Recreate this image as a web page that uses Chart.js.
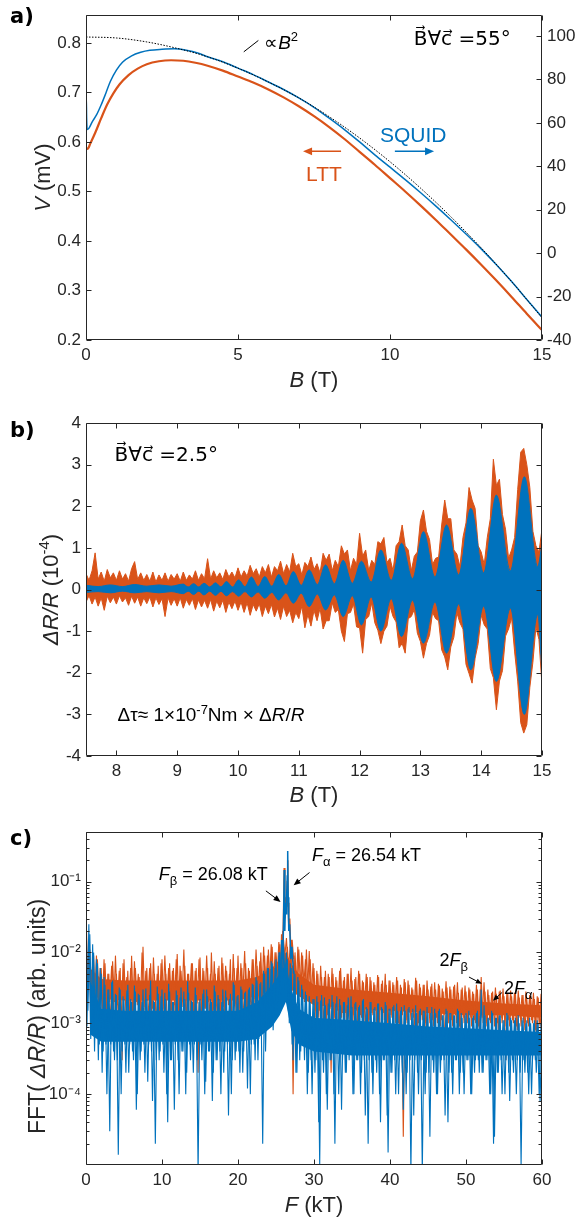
<!DOCTYPE html>
<html><head><meta charset="utf-8"><title>LTT vs SQUID</title>
<script src="https://cdn.jsdelivr.net/npm/chart.js@4.4.1/dist/chart.umd.min.js"></script>
<style>
html,body{margin:0;padding:0;background:#fff;}
#wrap{position:relative;width:579px;height:1218px;overflow:hidden;background:#fff;}
#wrap canvas{position:absolute;left:0;}
</style></head><body>
<div id="wrap">
<canvas id="ca" width="579" height="400" style="top:0px;width:579px;height:400px"></canvas>
<canvas id="cb" width="579" height="410" style="top:400px;width:579px;height:410px"></canvas>
<canvas id="cc" width="579" height="408" style="top:810px;width:579px;height:408px"></canvas>
</div>
<script>
// ---------------- Panel a data ----------------
const ltB = [0, 0.05, 0.15, 0.3, 0.5, 0.7, 0.9, 1.1, 1.4, 1.7, 2.0, 2.4, 2.8, 3.2, 3.6, 4.0, 4.5, 5.0, 5.5, 6.0, 6.5, 7.0, 7.5, 8.0, 8.5, 9.0, 9.5, 10.0, 10.5, 11.0, 11.5, 12.0, 12.5, 13.0, 13.5, 14.0, 14.5, 15.0];
const ltV = [0.588, 0.586, 0.598, 0.618, 0.648, 0.676, 0.698, 0.716, 0.735, 0.748, 0.757, 0.763, 0.765, 0.764, 0.760, 0.754, 0.744, 0.732, 0.720, 0.706, 0.690, 0.672, 0.652, 0.630, 0.606, 0.580, 0.554, 0.527, 0.500, 0.472, 0.443, 0.413, 0.383, 0.352, 0.320, 0.287, 0.253, 0.220];
const sqB = [0, 0.01, 0.02, 0.04, 0.1, 0.2, 0.35, 0.5, 0.65, 0.8, 1.0, 1.2, 1.5, 1.8, 2.1, 2.5, 2.9, 3.3, 3.7, 4.0, 4.5, 5.0, 5.5, 6.0, 6.5, 7.0, 7.5, 8.0, 8.5, 9.0, 9.5, 10.0, 10.5, 11.0, 11.5, 12.0, 12.5, 13.0, 13.5, 14.0, 14.5, 15.0];
const sqV = [0.62, 0.69, 0.65, 0.625, 0.628, 0.64, 0.655, 0.675, 0.698, 0.722, 0.745, 0.761, 0.774, 0.781, 0.785, 0.787, 0.788, 0.785, 0.779, 0.772, 0.762, 0.749, 0.736, 0.721, 0.706, 0.689, 0.670, 0.648, 0.625, 0.600, 0.574, 0.549, 0.524, 0.498, 0.471, 0.443, 0.414, 0.384, 0.352, 0.318, 0.282, 0.246];
const parB = [0, 1, 2, 3, 4, 5, 6, 7, 8, 9, 10, 11, 12, 13, 14, 15];
const parV = [0.812, 0.810, 0.802, 0.789, 0.772, 0.749, 0.721, 0.689, 0.651, 0.608, 0.560, 0.507, 0.449, 0.386, 0.318, 0.245];
const aXTicks = [0, 5, 10, 15];
const aYTicks = [0.2, 0.3, 0.4, 0.5, 0.6, 0.7, 0.8];
const aY2Ticks = [-40, -20, 0, 20, 40, 60, 80, 100];

// ---------------- Panel b data ----------------
const bB = [7.5, 7.7, 7.9, 8.1, 8.3, 8.5, 8.7, 8.9, 9.1, 9.18, 9.27, 9.355, 9.44, 9.535, 9.63, 9.72, 9.81, 9.91, 10.01, 10.115, 10.22, 10.33, 10.44, 10.555, 10.67, 10.79, 10.91, 11.04, 11.17, 11.305, 11.44, 11.585, 11.73, 11.88, 12.03, 12.19, 12.35, 12.52, 12.69, 12.87, 13.05, 13.24, 13.43, 13.63, 13.83, 14.04, 14.25, 14.48, 14.71, 14.93, 15.0];
const bUp = [0.10, 0.07, 0.11, 0.07, 0.12, 0.08, 0.11, 0.08, 0.13, 0.06, 0.14, 0.06, 0.15, 0.06, 0.16, 0.06, 0.19, 0.06, 0.23, 0.07, 0.30, 0.07, 0.31, 0.08, 0.36, 0.09, 0.43, 0.10, 0.47, 0.12, 0.59, 0.14, 0.70, 0.15, 0.68, 0.18, 0.95, 0.22, 1.11, 0.26, 1.39, 0.30, 1.55, 0.35, 1.95, 0.40, 2.27, 0.45, 2.71, 0.55, 1.10];
const bLo = [-0.07, -0.05, -0.08, -0.04, -0.08, -0.05, -0.08, -0.05, -0.10, -0.04, -0.12, -0.04, -0.13, -0.04, -0.14, -0.04, -0.15, -0.05, -0.16, -0.05, -0.18, -0.06, -0.21, -0.07, -0.25, -0.08, -0.33, -0.09, -0.41, -0.11, -0.49, -0.13, -0.65, -0.15, -0.85, -0.18, -1.00, -0.22, -1.13, -0.26, -1.29, -0.30, -1.53, -0.35, -1.93, -0.40, -2.21, -0.45, -3.00, -0.60, -2.00];
// LTT noise envelope, sampled every 0.05 T from 7.5 T to 15 T
const oUp = [
 0.38, 0.22, 0.45, 0.88, 0.25, 0.42, 0.20, 0.48, 0.28, 0.40,
 0.22, 0.45, 0.25, 0.38, 0.20, 0.50, 0.67, 0.24, 0.40, 0.22,
 0.36, 0.20, 0.42, 0.18, 0.35, 0.22, 0.40, 0.20, 0.36, 0.25,
 0.38, 0.20, 0.42, 0.22, 0.35, 0.25, 0.45, 0.22, 0.38, 0.26,
 0.74, 0.25, 0.45, 0.28, 0.40, 0.24, 0.48, 0.30, 0.42, 0.28,
 0.52, 0.30, 0.45, 0.32, 0.58, 0.38, 0.50, 0.30, 0.55, 0.40,
 0.60, 0.30, 0.55, 0.45, 0.68, 0.38, 0.60, 0.42, 0.87, 0.55,
 0.62, 0.35, 0.65, 0.55, 0.78, 0.48, 0.62, 0.40, 0.87, 0.70,
 0.85, 0.45, 0.70, 0.55, 1.05, 0.85, 0.95, 0.45, 0.75, 0.60,
 1.35, 0.80, 0.95, 0.45, 0.70, 0.60, 1.15, 1.10, 1.25, 0.65,
 0.75, 0.45, 1.05, 1.15, 1.55, 1.05, 0.95, 0.45, 0.80, 0.90,
 1.65, 1.91, 1.40, 1.20, 0.60, 0.75, 0.78, 1.55, 2.15, 1.70,
 1.70, 0.95, 0.85, 0.55, 1.25, 1.60, 2.45, 2.15, 1.95, 1.05,
 0.90, 0.60, 1.25, 1.70, 3.13, 2.50, 2.65, 1.80, 1.45, 0.75,
 0.95, 1.25, 2.40, 3.30, 3.39, 3.00, 2.45, 1.40, 1.05, 0.90,
 1.45];
const oLo = [
 -0.30, -0.15, -0.35, -0.18, -0.40, -0.20, -0.50, -0.16, -0.32, -0.18,
 -0.35, -0.15, -0.30, -0.20, -0.38, -0.16, -0.33, -0.18, -0.40, -0.20,
 -0.34, -0.18, -0.42, -0.20, -0.36, -0.22, -0.65, -0.20, -0.38, -0.22,
 -0.40, -0.20, -0.45, -0.24, -0.38, -0.22, -0.48, -0.25, -0.42, -0.26,
 -0.45, -0.24, -0.52, -0.28, -0.44, -0.26, -0.55, -0.30, -0.46, -0.28,
 -0.50, -0.30, -0.55, -0.32, -0.62, -0.36, -0.52, -0.34, -0.65, -0.40,
 -0.58, -0.36, -0.66, -0.45, -0.72, -0.40, -0.65, -0.50, -0.80, -0.55,
 -0.70, -0.40, -0.92, -0.60, -0.88, -0.50, -0.75, -0.45, -0.95, -0.75,
 -0.75, -0.32, -0.55, -0.48, -1.00, -1.25, -0.58, -0.55, -0.35, -0.90,
 -0.92, -1.53, -0.72, -0.65, -0.32, -0.80, -0.98, -1.30, -1.00, -0.88,
 -0.40, -0.65, -0.78, -1.40, -1.30, -1.53, -0.70, -0.65, -0.48, -1.05,
 -1.25, -1.65, -1.30, -1.10, -0.55, -0.70, -0.75, -1.45, -1.62, -1.93,
 -1.38, -1.15, -0.56, -0.80, -0.95, -1.80, -2.02, -2.25, -1.65, -1.30,
 -0.62, -0.85, -0.95, -1.90, -2.12, -2.89, -2.20, -1.95, -1.12, -0.95,
 -0.68, -1.50, -2.20, -3.20, -3.45, -3.25, -2.35, -1.75, -0.90, -1.20,
 -2.30];
const oGrid = oUp.map((_, i) => +(7.5 + 0.05 * i).toFixed(2)); // sampling abscissa
const bXTicks = [8, 9, 10, 11, 12, 13, 14, 15];
const bYTicks = [-4, -3, -2, -1, 0, 1, 2, 3, 4];

// ---------------- Panel c data ----------------
// FFT spectra: alternating local maxima / minima read every 0.25 kT (grid A: 0, 0.25, ... 60)
const cOrange = [
 4.1e-2, 3e-3, 1.1e-2, 2e-3, 9e-3, 1.5e-3, 8e-3, 2e-3,
 6e-3, 1.2e-3, 7e-3, 1.5e-3, 5e-3, 9e-4, 7.5e-3, 2e-3,
 5e-3, 1.1e-3, 6e-3, 3e-4, 8e-3, 1.4e-3, 5.5e-3, 1e-3,
 9e-3, 1.3e-3, 6e-3, 1.8e-3, 4.5e-3, 9e-4, 1.2e-2, 1.5e-3,
 6e-3, 1e-3, 7e-3, 1.6e-3, 5e-3, 8e-4, 6.5e-3, 1.2e-3,
 8e-3, 1.4e-3, 5e-3, 4e-4, 7e-3, 1.5e-3, 6e-3, 1.1e-3,
 9.5e-3, 1.3e-3, 5.5e-3, 1.7e-3, 6.5e-3, 1e-3, 5e-3, 1.4e-3,
 7e-3, 1.1e-3, 6e-3, 2e-4, 8.5e-3, 1.2e-3, 5.5e-3, 1.6e-3,
 6e-3, 1e-3, 1e-2, 1.5e-3, 5e-3, 1.2e-3, 6.5e-3, 9e-4,
 7e-3, 1.4e-3, 5.5e-3, 1.8e-3, 8e-3, 4e-4, 6e-3, 1.3e-3,
 9e-3, 1.5e-3, 6e-3, 1e-3, 7e-3, 1.7e-3, 5.5e-3, 1.2e-3,
 8e-3, 1.6e-3, 6.5e-3, 2e-3, 1e-2, 1.8e-3, 9e-3, 2.5e-3,
 1.1e-2, 3e-3, 1.2e-2, 2.5e-3, 1e-2, 4e-3, 1.3e-2, 5e-3,
 1.5e-2, 6e-3, 1.2e-2, 4e-3, 1.1e-2, 1e-4, 1e-2, 3e-3,
 1.1e-2, 3e-3, 9e-3, 2e-3, 1.1e-2, 2.5e-3, 8e-3, 2e-3,
 6e-3, 1.2e-3, 5e-3, 1.5e-3, 4.5e-3, 9e-4, 5.5e-3, 1.3e-3,
 4.5e-3, 2e-4, 5e-3, 1.2e-3, 4e-3, 1e-3, 6e-3, 1.4e-3,
 4.5e-3, 1.1e-3, 5e-3, 9e-4, 4e-3, 1.3e-3, 4.5e-3, 1e-3,
 5e-3, 1.2e-3, 3.8e-3, 8e-4, 4.5e-3, 1.1e-3, 4e-3, 1.3e-3,
 3.5e-3, 1e-3, 4.5e-3, 3e-4, 4e-3, 1.1e-3, 3.5e-3, 9e-4,
 4e-3, 1.2e-3, 3.5e-3, 1e-3, 4e-3, 8e-4, 3.2e-3, 2.5e-5,
 3.8e-3, 1e-3, 3.5e-3, 1.1e-3, 3e-3, 9e-4, 4e-3, 1e-3,
 3.2e-3, 1.1e-3, 3.5e-3, 8e-4, 3e-3, 1e-3, 3.6e-3, 9e-4,
 3e-3, 1e-3, 3.4e-3, 1.1e-3, 2.8e-3, 4e-4, 3.2e-3, 1e-3,
 3e-3, 9e-4, 3.5e-3, 1e-3, 2.7e-3, 8e-4, 3.2e-3, 1e-3,
 2.8e-3, 1e-3, 3e-3, 9e-4, 2.6e-3, 1e-3, 3e-3, 8e-4,
 4.5e-3, 1e-3, 2.8e-3, 9e-4, 2.5e-3, 1e-3, 2.8e-3, 9e-4,
 2.6e-3, 8e-4, 2.9e-3, 1e-3, 2.4e-3, 3e-4, 2.6e-3, 9e-4,
 2.4e-3, 1e-3, 2.7e-3, 8e-4, 2.3e-3, 9e-4, 2.5e-3, 8e-4,
 2.2e-3, 9e-4, 2.4e-3, 1e-3, 2.2e-3, 7e-4, 2.3e-3, 9e-4,
 2e-3];
const cBlue = [
 3.6e-2, 1.5e-3, 1.8e-2, 1e-3, 1e-2, 8e-4, 7e-3, 5e-4,
 5e-3, 4e-4, 3.5e-3, 1e-4, 3e-3, 5e-4, 4e-3, 3e-4,
 2.5e-3, 1.4e-5, 3e-3, 4e-4, 2.2e-3, 2e-4, 3.5e-3, 5e-4,
 2e-3, 3e-4, 2.8e-3, 1e-4, 2.5e-3, 4e-4, 3e-3, 2e-4,
 2.2e-3, 5e-4, 4e-3, 8e-5, 2e-3, 3e-4, 2.6e-3, 4e-4,
 3e-3, 2e-4, 2.2e-3, 4e-5, 2.8e-3, 3e-4, 2e-3, 5e-4,
 2.5e-3, 1e-4, 3.2e-3, 4e-4, 2.2e-3, 2e-4, 2.7e-3, 3e-4,
 2e-3, 5e-4, 2.5e-3, 8e-6, 2.2e-3, 3e-4, 3e-3, 1.5e-4,
 2.4e-3, 4e-4, 2e-3, 2e-4, 2.8e-3, 3e-4, 2.2e-3, 1e-4,
 3e-3, 4e-4, 2.3e-3, 5e-5, 2.6e-3, 3e-4, 3.5e-3, 4e-4,
 2.5e-3, 2e-4, 3e-3, 4e-4, 2.8e-3, 1.2e-4, 3.2e-3, 5e-4,
 3.5e-3, 3e-4, 4e-3, 6e-4, 3.8e-3, 2e-5, 5e-3, 8e-4,
 6e-3, 1e-3, 7e-3, 1.5e-3, 8e-3, 2e-3, 1e-2, 3e-3,
 1.2e-2, 3e-3, 8e-3, 1e-3, 6e-3, 3e-4, 5e-3, 2e-4,
 4e-3, 4e-4, 3e-3, 3e-4, 2.5e-3, 2e-4, 2e-3, 1e-4,
 2.2e-3, 3e-4, 2e-3, 1e-5, 2.5e-3, 2e-4, 1.8e-3, 6e-5,
 2.2e-3, 3e-4, 2e-3, 2e-5, 2.4e-3, 1e-4, 1.8e-3, 3e-4,
 2e-3, 2e-4, 2.3e-3, 4e-4, 1.7e-3, 1e-4, 2e-3, 3e-4,
 1.8e-3, 2e-4, 2.2e-3, 5e-5, 1.6e-3, 3e-4, 2e-3, 1e-4,
 1.7e-3, 2e-4, 1.9e-3, 4e-5, 1.6e-3, 3e-4, 1.8e-3, 1.5e-5,
 1.6e-3, 2e-4, 1.8e-3, 1e-4, 1.5e-3, 3e-4, 1.7e-3, 6e-5,
 1.5e-3, 2e-4, 1.7e-3, 8e-6, 1.6e-3, 3e-4, 1.4e-3, 1e-4,
 1.6e-3, 8e-6, 1.5e-3, 2e-4, 1.4e-3, 2.5e-5, 1.7e-3, 2e-4,
 1.4e-3, 1e-4, 1.6e-3, 3e-4, 1.3e-3, 5e-5, 1.5e-3, 2e-4,
 1.4e-3, 1e-4, 1.3e-3, 3e-4, 1.5e-3, 2e-4, 1.2e-3, 1e-4,
 1.4e-3, 3e-4, 1.2e-3, 1e-4, 1.3e-3, 3e-4, 1.5e-3, 2e-4,
 3e-3, 2e-4, 1.3e-3, 3e-4, 1.2e-3, 1e-4, 1.4e-3, 2.5e-5,
 1.2e-3, 2e-4, 1.3e-3, 1e-4, 1.1e-3, 3e-4, 1.3e-3, 8e-5,
 1.1e-3, 2e-4, 1.2e-3, 3e-4, 1e-3, 1e-5, 1.2e-3, 2e-4,
 1.1e-3, 1e-4, 1e-3, 3e-4, 1.1e-3, 2e-4, 1e-3, 8e-5,
 1e-3];
// same spectra on the intermediate grid B: 0.125, 0.375, ... 59.875
const cOrange2 = [
 2.5e-3, 1.2e-2, 1.8e-3, 7e-3, 2.2e-3, 9e-3, 1.4e-3, 6e-3,
 1.6e-3, 8e-3, 1.1e-3, 5e-3, 2e-3, 6.5e-3, 1.3e-3, 9e-3,
 1.8e-3, 5.5e-3, 1e-3, 7e-3, 2.2e-3, 4.5e-3, 1.5e-3, 6e-3,
 1.2e-3, 7.5e-3, 2e-3, 5e-3, 1.4e-3, 1e-2, 1.7e-3, 5.5e-3,
 2.1e-3, 6e-3, 1.3e-3, 8.5e-3, 1.9e-3, 5e-3, 1e-3, 7e-3,
 1.6e-3, 9e-3, 2.2e-3, 6e-3, 1.2e-3, 5.5e-3, 1.8e-3, 8e-3,
 1.1e-3, 6.5e-3, 2e-3, 1.1e-2, 1.5e-3, 5e-3, 2.3e-3, 7e-3,
 1.4e-3, 5.5e-3, 1.9e-3, 8e-3, 6e-4, 6e-3, 1.6e-3, 9e-3,
 2e-3, 5e-3, 1.3e-3, 7.5e-3, 1.8e-3, 6e-3, 1.1e-3, 8.5e-3,
 1.7e-3, 6.5e-3, 2.2e-3, 5e-3, 1.4e-3, 9.5e-3, 1.9e-3, 6e-3,
 1.3e-3, 7e-3, 2.4e-3, 1.05e-2, 1.6e-3, 6e-3, 2e-3, 8e-3,
 2.2e-3, 1.1e-2, 2.8e-3, 7.5e-3, 2e-3, 1.2e-2, 3e-3, 9e-3,
 3.5e-3, 1.3e-2, 2.8e-3, 1e-2, 4e-3, 1.4e-2, 6e-3, 2e-2,
 8e-3, 1.6e-2, 5e-3, 1.3e-2, 3e-3, 9e-3, 2.5e-3, 1.2e-2,
 2.5e-3, 1e-2, 3e-3, 8e-3, 2.2e-3, 1.05e-2, 2e-3, 7e-3,
 1.5e-3, 5.5e-3, 1.2e-3, 6.5e-3, 1.8e-3, 4.5e-3, 1.1e-3, 5e-3,
 1.6e-3, 6e-3, 1e-3, 4.5e-3, 1.5e-3, 5.5e-3, 1.2e-3, 4e-3,
 1.4e-3, 5e-3, 1.7e-3, 6e-3, 1e-3, 4.2e-3, 1.5e-3, 5.5e-3,
 1.3e-3, 4e-3, 1.6e-3, 5e-3, 9e-4, 4.5e-3, 1.4e-3, 3.8e-3,
 1.5e-3, 4.8e-3, 1.1e-3, 3.6e-3, 1.4e-3, 5e-3, 1e-3, 4e-3,
 1.3e-3, 3.8e-3, 1.5e-3, 4.5e-3, 1e-3, 3.5e-3, 1.3e-3, 4.2e-3,
 1.1e-3, 4e-3, 1.4e-3, 3.2e-3, 1.2e-3, 4.4e-3, 9e-4, 3.6e-3,
 1.3e-3, 3.5e-3, 1e-3, 4e-3, 1.4e-3, 3.3e-3, 1.1e-3, 3.8e-3,
 1.2e-3, 3.6e-3, 9e-4, 3.1e-3, 1.3e-3, 3.9e-3, 1e-3, 3.3e-3,
 1.1e-3, 3.3e-3, 1.3e-3, 3.8e-3, 9e-4, 3e-3, 1.2e-3, 3.4e-3,
 1e-3, 3.2e-3, 1.2e-3, 2.8e-3, 1.1e-3, 3.5e-3, 9e-4, 3e-3,
 1.2e-3, 3.8e-3, 1e-3, 3e-3, 1.1e-3, 2.7e-3, 1.3e-3, 3.2e-3,
 1e-3, 2.8e-3, 1.2e-3, 3.1e-3, 9e-4, 2.6e-3, 1.1e-3, 2.9e-3,
 1.1e-3, 2.7e-3, 9e-4, 2.9e-3, 1.2e-3, 2.5e-3, 1e-3, 2.8e-3,
 1e-3, 2.5e-3, 1.1e-3, 2.7e-3, 8e-4, 2.4e-3, 1e-3, 2.6e-3];
const cBlue2 = [
 9e-4, 2.5e-2, 6e-4, 1.3e-2, 4e-4, 8e-3, 3e-4, 6e-3,
 2e-4, 4.5e-3, 5e-4, 3e-3, 3e-5, 3.8e-3, 4e-4, 2.6e-3,
 3e-4, 3.2e-3, 1e-4, 2.4e-3, 5e-4, 2.9e-3, 2e-4, 2.2e-3,
 4e-4, 3.4e-3, 6e-5, 2.6e-3, 3e-4, 2e-3, 5e-4, 3.1e-3,
 1.5e-4, 2.5e-3, 4e-4, 2.1e-3, 2e-5, 3.3e-3, 3e-4, 2.4e-3,
 5e-4, 2.7e-3, 1e-4, 3.6e-3, 3e-4, 2e-3, 6e-5, 2.9e-3,
 3e-4, 2.3e-3, 4e-4, 2.8e-3, 1e-4, 3.9e-3, 5e-4, 2.1e-3,
 2e-4, 3.2e-3, 3e-4, 2e-3, 5e-4, 2.6e-3, 1e-4, 3e-3,
 4e-4, 2.2e-3, 8e-5, 3.4e-3, 3e-4, 2.5e-3, 4e-4, 2e-3,
 2e-4, 2.9e-3, 5e-4, 2.2e-3, 1e-4, 3.8e-3, 3e-4, 2.4e-3,
 4e-4, 3.3e-3, 2e-4, 2.7e-3, 6e-4, 3e-3, 1e-4, 3.6e-3,
 5e-4, 4.5e-3, 3e-4, 3.6e-3, 7e-4, 5.5e-3, 4e-4, 6e-3,
 1e-3, 7.5e-3, 8e-4, 6e-3, 1.5e-3, 9e-3, 2.5e-3, 1.4e-2,
 4e-3, 1e-2, 1.5e-3, 7e-3, 5e-4, 5.5e-3, 2e-4, 4.5e-3,
 3e-4, 3.5e-3, 5e-4, 2.8e-3, 1e-4, 2.4e-3, 3e-4, 2.2e-3,
 2e-4, 2.4e-3, 4e-5, 2.1e-3, 3e-4, 2.3e-3, 1e-4, 1.9e-3,
 3e-4, 2.5e-3, 1e-4, 1.9e-3, 4e-4, 2.2e-3, 6e-5, 2e-3,
 2e-4, 1.8e-3, 3e-4, 2.4e-3, 1e-4, 1.9e-3, 3e-4, 1.7e-3,
 1e-4, 2.1e-3, 3e-4, 1.7e-3, 2e-5, 2e-3, 2e-4, 1.6e-3,
 3e-4, 1.9e-3, 1e-4, 1.7e-3, 3e-4, 2e-3, 5e-5, 1.6e-3,
 2e-4, 1.7e-3, 3e-4, 1.9e-3, 1e-4, 1.5e-3, 2e-4, 1.8e-3,
 1e-4, 1.6e-3, 3e-4, 1.4e-3, 5e-5, 1.8e-3, 2e-4, 1.5e-3,
 3e-4, 1.5e-3, 1e-4, 1.7e-3, 2e-4, 1.4e-3, 3e-4, 1.6e-3,
 1e-4, 1.5e-3, 2e-4, 1.3e-3, 3e-4, 1.6e-3, 4e-5, 1.4e-3,
 2e-4, 1.3e-3, 3e-4, 1.6e-3, 1e-4, 1.4e-3, 2e-4, 1.3e-3,
 3e-4, 1.5e-3, 1e-4, 1.2e-3, 2e-4, 1.4e-3, 3e-4, 1.3e-3,
 2e-4, 1.8e-3, 3e-4, 1.2e-3, 1e-4, 1.5e-3, 2e-5, 1.2e-3,
 2e-4, 1.3e-3, 3e-4, 1.1e-3, 1e-4, 1.4e-3, 2e-4, 1.2e-3,
 3e-4, 1.1e-3, 1e-4, 1.3e-3, 2e-4, 1.1e-3, 3e-4, 1e-3,
 2e-4, 1.2e-3, 1e-4, 1e-3, 3e-4, 1.1e-3, 1e-4, 1e-3];
const cF = cOrange.map((_, i) => i * 0.25);          // sampling abscissa A (kT)
const cF2 = cOrange2.map((_, i) => 0.125 + i * 0.25); // sampling abscissa B (kT)
// resolved peak region around F_beta and F_alpha
const pkF = [25.4, 25.6, 25.75, 25.9, 26.0, 26.08, 26.16, 26.25, 26.32, 26.4, 26.48, 26.54, 26.6, 26.68, 26.8, 26.95, 27.1, 27.3];
const pkBlue = [1e-2, 3e-3, 1.5e-2, 8e-3, 3e-2, 0.145, 2e-2, 5e-2, 3.5e-2, 6e-2, 0.12, 0.27, 6e-2, 2e-2, 2.5e-2, 8e-3, 1.2e-2, 5e-3];
const pkOrange = [1.2e-2, 4e-3, 1.8e-2, 1e-2, 4e-2, 0.155, 3e-2, 6e-2, 4.5e-2, 5.5e-2, 0.1, 0.2, 5e-2, 2.5e-2, 3e-2, 1e-2, 1.5e-2, 8e-3];
// dense core of each spectrum
const bodyF = [0.5, 2, 5, 10, 15, 20, 22.5, 24.5, 25.5, 26.3, 27, 28, 30, 35, 40, 45, 50, 55, 60];
const oBodyHi = [6e-3, 4.2e-3, 4e-3, 4e-3, 4e-3, 4e-3, 4.5e-3, 6e-3, 8e-3, 1e-2, 7e-3, 5e-3, 3.5e-3, 3e-3, 2.7e-3, 2.4e-3, 2.1e-3, 1.9e-3, 1.8e-3];
const oBodyLo = [2.5e-3, 2.2e-3, 2.1e-3, 2.1e-3, 2.1e-3, 2.1e-3, 2.4e-3, 3e-3, 4e-3, 5e-3, 3e-3, 2.4e-3, 1.8e-3, 1.6e-3, 1.5e-3, 1.4e-3, 1.3e-3, 1.3e-3, 1.2e-3];
const bBodyHi = [4e-3, 1.6e-3, 1.5e-3, 1.5e-3, 1.5e-3, 1.5e-3, 2e-3, 3.5e-3, 5e-3, 7e-3, 3e-3, 1.6e-3, 1.2e-3, 1.1e-3, 1e-3, 9e-4, 8.5e-4, 8e-4, 7.5e-4];
const bBodyLo = [7e-4, 5.5e-4, 5.5e-4, 5.5e-4, 5.5e-4, 5.5e-4, 6e-4, 9e-4, 1.3e-3, 2e-3, 8e-4, 5e-4, 4e-4, 3.5e-4, 3.5e-4, 3.5e-4, 3.5e-4, 3.5e-4, 3.5e-4];
const cXTicks = [0, 10, 20, 30, 40, 50, 60];
const cYTicks = [1e-4, 1e-3, 1e-2, 1e-1];

// ---------------- styling ----------------
const ORANGE = '#D95319', BLUE = '#0072BD', INK = '#262626';
const SANS = '"Liberation Sans", Arial, Helvetica, sans-serif';
const F = s => `${s}px ${SANS}`;
const FI = s => `italic ${s}px ${SANS}`;
const DJ = s => `${s}px "DejaVu Sans"`;
const TICK = 17, TITLE = 22, ANN = 19;
const SUP = {'-1': '\u207B\u00B9', '-2': '\u207B\u00B2', '-3': '\u207B\u00B3', '-4': '\u207B\u2074'};

function pts(xs, ys) { return xs.map((x, i) => ({x: x, y: ys[i]})); }

function mkX(min, max, ticks, h) {
  return {type: 'linear', min, max,
    afterFit: s => { s.height = h; },
    afterBuildTicks: s => { s.ticks = ticks.map(v => ({value: v})); },
    grid: {display: false, drawTicks: false}, border: {display: false},
    ticks: {color: INK, font: {family: SANS, size: TICK}, padding: 5, autoSkip: false, maxRotation: 0, minRotation: 0,
      callback: v => String(v)}};
}
function mkY(pos, min, max, ticks, w, type, cb) {
  return {type: type || 'linear', position: pos, min, max,
    afterFit: s => { s.width = w; },
    afterBuildTicks: s => { s.ticks = ticks.map(v => ({value: v})); },
    grid: {display: false, drawTicks: false}, border: {display: false},
    ticks: {color: INK, font: {family: SANS, size: TICK}, padding: 5, autoSkip: false,
      callback: cb || (v => String(v))}};
}
function dummyRight(w) {
  return {type: 'linear', position: 'right', min: 0, max: 1, display: true,
    afterFit: s => { s.width = w; },
    grid: {display: false, drawTicks: false}, border: {display: false}, ticks: {display: false}};
}

function runsWidth(ctx, parts) { let w = 0; for (const p of parts) { ctx.font = p[1]; w += ctx.measureText(p[0]).width; } return w; }
function drawRuns(ctx, x, y, parts, color, align) {
  ctx.save(); ctx.fillStyle = color; ctx.textBaseline = 'alphabetic'; ctx.textAlign = 'left';
  let cx = x; if (align === 'center') cx -= runsWidth(ctx, parts) / 2;
  for (const p of parts) { ctx.font = p[1]; ctx.fillText(p[0], cx, y + (p[2] || 0)); cx += ctx.measureText(p[0]).width; }
  ctx.restore();
}
function drawRunsV(ctx, x, y, parts, color) {
  ctx.save(); ctx.translate(x, y); ctx.rotate(-Math.PI / 2); drawRuns(ctx, 0, 0, parts, color, 'center'); ctx.restore();
}
function arrow(ctx, x1, y1, x2, y2, color, lw, head) {
  const a = Math.atan2(y2 - y1, x2 - x1), c = Math.cos(a), s = Math.sin(a);
  ctx.save(); ctx.strokeStyle = color; ctx.fillStyle = color; ctx.lineWidth = lw;
  ctx.beginPath(); ctx.moveTo(x1, y1); ctx.lineTo(x2 - c * head * 0.7, y2 - s * head * 0.7); ctx.stroke();
  ctx.beginPath(); ctx.moveTo(x2, y2);
  ctx.lineTo(x2 - head * c + head * 0.42 * s, y2 - head * s - head * 0.42 * c);
  ctx.lineTo(x2 - head * c - head * 0.42 * s, y2 - head * s + head * 0.42 * c);
  ctx.closePath(); ctx.fill(); ctx.restore();
}
function seg(ctx, x1, y1, x2, y2, color, lw) {
  ctx.save(); ctx.strokeStyle = color; ctx.lineWidth = lw; ctx.beginPath(); ctx.moveTo(x1, y1); ctx.lineTo(x2, y2); ctx.stroke(); ctx.restore();
}

function framePlugin(o) {
  return {id: 'frame', afterDatasetsDraw(chart) {
    const ctx = chart.ctx, a = chart.chartArea;
    const L = Math.round(a.left) + 0.5, R = Math.round(a.right) - 0.5, T = Math.round(a.top) + 0.5, B = Math.round(a.bottom) - 0.5;
    ctx.save();
    ctx.strokeStyle = INK; ctx.lineWidth = 1;
    ctx.beginPath(); ctx.rect(L, T, R - L, B - T); ctx.stroke();
    ctx.beginPath();
    const sx = chart.scales.x, sy = chart.scales.y;
    o.xTicks.forEach(v => { const p = Math.round(sx.getPixelForValue(v)) + 0.5; ctx.moveTo(p, B); ctx.lineTo(p, B - 5); ctx.moveTo(p, T); ctx.lineTo(p, T + 5); });
    o.yTicks.forEach(v => { const p = Math.round(sy.getPixelForValue(v)) + 0.5; ctx.moveTo(L, p); ctx.lineTo(L + 5, p); if (o.mirrorY) { ctx.moveTo(R, p); ctx.lineTo(R - 5, p); } });
    if (o.y2Ticks) { const s2 = chart.scales.y2; o.y2Ticks.forEach(v => { const p = Math.round(s2.getPixelForValue(v)) + 0.5; ctx.moveTo(R, p); ctx.lineTo(R - 5, p); }); }
    if (o.minor) {
      for (let d = -5; d <= -1; d++) for (let m = 2; m <= 9; m++) {
        const v = m * Math.pow(10, d); if (v < sy.min || v > sy.max) continue;
        const p = Math.round(sy.getPixelForValue(v)) + 0.5; ctx.moveTo(L, p); ctx.lineTo(L + 3, p); ctx.moveTo(R, p); ctx.lineTo(R - 3, p);
      }
    }
    ctx.stroke();
    ctx.restore();
    if (o.extra) o.extra(chart, ctx, a);
  }};
}
const common = {responsive: false, animation: false, devicePixelRatio: 1, events: [],
  plugins: {legend: {display: false}, tooltip: {enabled: false}}};

// ---------------- Chart a ----------------
new Chart(document.getElementById('ca'), {
  type: 'line',
  data: {datasets: [
    {data: pts(parB, parV), borderColor: '#000', borderWidth: 1, borderDash: [1.5, 1.5], pointRadius: 0, cubicInterpolationMode: 'monotone', yAxisID: 'y'},
    {data: pts(sqB, sqV), borderColor: BLUE, borderWidth: 1.5, pointRadius: 0, cubicInterpolationMode: 'monotone', yAxisID: 'y'},
    {data: pts(ltB, ltV), borderColor: ORANGE, borderWidth: 2.2, pointRadius: 0, cubicInterpolationMode: 'monotone', yAxisID: 'y'}
  ]},
  options: Object.assign({}, common, {
    layout: {padding: {top: 7, left: 0, right: 0, bottom: 0}},
    scales: {x: mkX(0, 15, aXTicks, 60), y: mkY('left', 0.2, 0.856, aYTicks, 86), y2: mkY('right', -40, 109.6, aY2Ticks, 37)}
  }),
  plugins: [framePlugin({xTicks: aXTicks, yTicks: aYTicks, y2Ticks: aY2Ticks, extra: (chart, ctx, a) => {
    const P = (x, y) => [chart.scales.x.getPixelForValue(x), chart.scales.y.getPixelForValue(y)];
    let p1 = P(5.19, 0.782), p2 = P(5.67, 0.805);
    seg(ctx, p1[0], p1[1], p2[0], p2[1], '#000', 1);
    let q = P(5.86, 0.788);
    drawRuns(ctx, q[0], q[1], [['\u221D', F(ANN)], ['B', FI(ANN)], ['2', F(13), -8]], '#000');
    q = P(10.78, 0.796);
    drawRuns(ctx, q[0], q[1], [['B\u20D7\u2200c\u20D7 =55\u00B0', DJ(20)]], '#000');
    q = P(9.67, 0.600);
    drawRuns(ctx, q[0], q[1], [['SQUID', F(21)]], BLUE);
    q = P(7.24, 0.521);
    drawRuns(ctx, q[0], q[1], [['LTT', F(21)]], ORANGE);
    p1 = P(10.16, 0.581); p2 = P(11.45, 0.581); arrow(ctx, p1[0], p1[1], p2[0], p2[1], BLUE, 1.5, 9);
    p1 = P(8.39, 0.581); p2 = P(7.14, 0.581); arrow(ctx, p1[0], p1[1], p2[0], p2[1], ORANGE, 1.5, 9);
    drawRuns(ctx, (a.left + a.right) / 2, a.bottom + 47, [['B', FI(TITLE)], [' (T)', F(TITLE)]], INK, 'center');
    drawRunsV(ctx, a.left - 36, (a.top + a.bottom) / 2, [['V', FI(TITLE)], [' (mV)', F(TITLE)]], INK);
    ctx.save(); ctx.fillStyle = '#000'; ctx.font = 'bold 21px "DejaVu Sans"'; ctx.fillText('a)', 10, 23); ctx.restore();
  }})]
});

// ---------------- Chart b ----------------
new Chart(document.getElementById('cb'), {
  type: 'line',
  data: {datasets: [
    {data: pts(bB, bUp), borderColor: BLUE, borderWidth: 1, pointRadius: 0, cubicInterpolationMode: 'monotone', fill: false},
    {data: pts(bB, bLo), borderColor: BLUE, borderWidth: 1, pointRadius: 0, cubicInterpolationMode: 'monotone', fill: '-1', backgroundColor: BLUE},
    {data: pts(oGrid, oUp), borderColor: ORANGE, borderWidth: 1, pointRadius: 0, tension: 0, fill: false},
    {data: pts(oGrid, oLo), borderColor: ORANGE, borderWidth: 1, pointRadius: 0, tension: 0, fill: '-1', backgroundColor: ORANGE}
  ]},
  options: Object.assign({}, common, {
    layout: {padding: {top: 23, left: 0, right: 0, bottom: 0}},
    scales: {x: mkX(7.5, 15, bXTicks, 54), y: mkY('left', -4, 4, bYTicks, 86), y2: dummyRight(37)}
  }),
  plugins: [framePlugin({xTicks: bXTicks, yTicks: bYTicks, mirrorY: true, extra: (chart, ctx, a) => {
    const P = (x, y) => [chart.scales.x.getPixelForValue(x), chart.scales.y.getPixelForValue(y)];
    let q = P(7.97, 3.09);
    drawRuns(ctx, q[0], q[1], [['B\u20D7\u2200c\u20D7 =2.5\u00B0', DJ(20)]], '#000');
    q = P(8.02, -3.15);
    drawRuns(ctx, q[0], q[1], [['\u0394\u03C4\u2248 1\u00D710', F(19)], ['-7', F(13), -7], ['Nm \u00D7 \u0394', F(19)], ['R', FI(19)], ['/', F(19)], ['R', FI(19)]], '#000');
    drawRuns(ctx, (a.left + a.right) / 2, a.bottom + 46, [['B', FI(TITLE)], [' (T)', F(TITLE)]], INK, 'center');
    drawRunsV(ctx, a.left - 28, (a.top + a.bottom) / 2, [['\u0394R/R', FI(TITLE)], [' (10', F(TITLE)], ['-4', F(15), -9], [')', F(TITLE)]], INK);
    ctx.save(); ctx.fillStyle = '#000'; ctx.font = 'bold 21px "DejaVu Sans"'; ctx.fillText('b)', 10, 37); ctx.restore();
  }})]
});

// ---------------- Chart c ----------------
new Chart(document.getElementById('cc'), {
  type: 'line',
  data: {datasets: [
    {data: pts(cF, cBlue), borderColor: BLUE, borderWidth: 1.1, pointRadius: 0, tension: 0, fill: false},
    {data: pts(cF2, cBlue2), borderColor: BLUE, borderWidth: 1.1, pointRadius: 0, tension: 0, fill: false},
    {data: pts(pkF, pkBlue), borderColor: BLUE, borderWidth: 1.5, pointRadius: 0, tension: 0, fill: false},
    {data: pts(bodyF, bBodyHi), borderWidth: 0, borderColor: BLUE, pointRadius: 0, tension: 0, fill: false},
    {data: pts(bodyF, bBodyLo), borderWidth: 0, borderColor: BLUE, pointRadius: 0, tension: 0, fill: '-1', backgroundColor: BLUE},
    {data: pts(cF, cOrange), borderColor: ORANGE, borderWidth: 1.1, pointRadius: 0, tension: 0, fill: false},
    {data: pts(cF2, cOrange2), borderColor: ORANGE, borderWidth: 1.1, pointRadius: 0, tension: 0, fill: false},
    {data: pts(pkF, pkOrange), borderColor: ORANGE, borderWidth: 1.5, pointRadius: 0, tension: 0, fill: false},
    {data: pts(bodyF, oBodyHi), borderWidth: 0, borderColor: ORANGE, pointRadius: 0, tension: 0, fill: false},
    {data: pts(bodyF, oBodyLo), borderWidth: 0, borderColor: ORANGE, pointRadius: 0, tension: 0, fill: '-1', backgroundColor: ORANGE}
  ]},
  options: Object.assign({}, common, {
    layout: {padding: {top: 22, left: 0, right: 0, bottom: 0}},
    scales: {x: mkX(0, 60, cXTicks, 53),
      y: mkY('left', 1e-5, 0.5, cYTicks, 86, 'logarithmic', v => '10' + SUP[String(Math.round(Math.log10(v)))]),
      y2: dummyRight(37)}
  }),
  plugins: [framePlugin({xTicks: cXTicks, yTicks: cYTicks, mirrorY: true, minor: true, extra: (chart, ctx, a) => {
    const P = (x, y) => [chart.scales.x.getPixelForValue(x), chart.scales.y.getPixelForValue(y)];
    let q = P(9.58, 0.104);
    drawRuns(ctx, q[0], q[1], [['F', FI(18)], ['\u03B2', F(13), 5], [' = 26.08 kT', F(18)]], '#000');
    q = P(29.74, 0.196);
    drawRuns(ctx, q[0], q[1], [['F', FI(18)], ['\u03B1', F(13), 5], [' = 26.54 kT', F(18)]], '#000');
    let p1 = P(23.67, 0.0738), p2 = P(25.6, 0.0516); arrow(ctx, p1[0], p1[1], p2[0], p2[1], '#000', 1, 7);
    p1 = P(29.41, 0.134); p2 = P(27.32, 0.0887); arrow(ctx, p1[0], p1[1], p2[0], p2[1], '#000', 1, 7);
    q = P(46.5, 6.47e-3);
    drawRuns(ctx, q[0], q[1], [['2', F(18)], ['F', FI(18)], ['\u03B2', F(13), 5]], '#000');
    p1 = P(50.39, 4.49e-3); p2 = P(52.09, 3.61e-3); arrow(ctx, p1[0], p1[1], p2[0], p2[1], '#000', 1, 6);
    q = P(55.0, 2.59e-3);
    drawRuns(ctx, q[0], q[1], [['2', F(18)], ['F', FI(18)], ['\u03B1', F(13), 5]], '#000');
    p1 = P(54.76, 2.73e-3); p2 = P(53.55, 2.08e-3); arrow(ctx, p1[0], p1[1], p2[0], p2[1], '#000', 1, 6);
    drawRuns(ctx, (a.left + a.right) / 2, a.bottom + 47, [['F', FI(TITLE)], [' (kT)', F(TITLE)]], INK, 'center');
    drawRunsV(ctx, a.left - 41, (a.top + a.bottom) / 2 + 18, [['FFT( ', F(23)], ['\u0394R/R', FI(23)], [') (arb. units)', F(23)]], INK);
    ctx.save(); ctx.fillStyle = '#000'; ctx.font = 'bold 21px "DejaVu Sans"'; ctx.fillText('c)', 10, 35); ctx.restore();
  }})]
});
</script>
</body></html>
